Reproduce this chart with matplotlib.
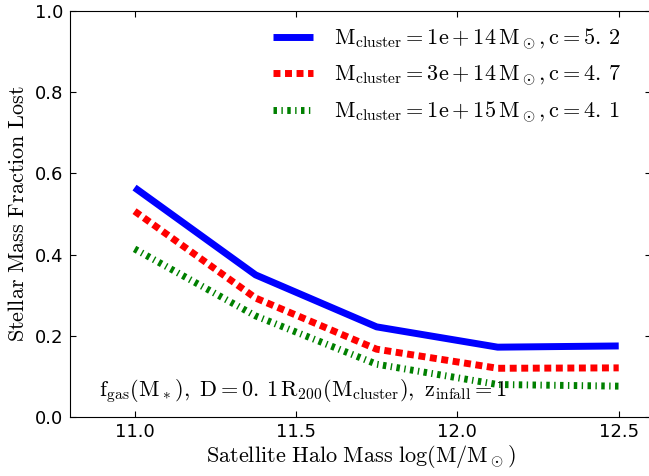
import matplotlib
matplotlib.use("Agg")
import matplotlib.pyplot as plt

plt.rcParams['mathtext.fontset'] = 'cm'
plt.rcParams['font.family'] = ['DejaVu Sans']
plt.rcParams['lines.scale_dashes'] = False

halo_mass = [11.0, 11.375, 11.75, 12.125, 12.5]
frac_1e14 = [0.565, 0.350, 0.222, 0.172, 0.175]
frac_3e14 = [0.507, 0.293, 0.167, 0.120, 0.121]
frac_1e15 = [0.414, 0.249, 0.130, 0.080, 0.076]

labels = [
    r'$\mathrm{M_{cluster}=1e+14\,M_\odot, c=5.\,2}$',
    r'$\mathrm{M_{cluster}=3e+14\,M_\odot, c=4.\,7}$',
    r'$\mathrm{M_{cluster}=1e+15\,M_\odot, c=4.\,1}$',
]
xticks = [11.0, 11.5, 12.0, 12.5]
yticks = [0.0, 0.2, 0.4, 0.6, 0.8, 1.0]

fig = plt.figure(figsize=(6.49, 4.76), dpi=100)
ax = fig.add_axes([70/649, 59/476, 581/649, 406/476])

ax.plot(halo_mass, frac_1e14, color='blue', lw=5, solid_capstyle='butt', label=labels[0])
ax.plot(halo_mass, frac_3e14, color='red', lw=5, dashes=[5, 3.3], label=labels[1])
ax.plot(halo_mass, frac_1e15, color='green', lw=5, dashes=[2.5, 3.2, 1, 3.2], label=labels[2])

ax.set_xlim(10.8, 12.6)
ax.set_ylim(0, 1.0)
ax.set_xticks(xticks)
ax.set_xticklabels([f'{t:.1f}' for t in xticks])
ax.set_yticks(yticks)
ax.set_yticklabels([f'{t:.1f}' for t in yticks])
ax.tick_params(direction='in', top=True, right=True, length=4, labelsize=13)
ax.tick_params(axis='x', pad=4)
ax.tick_params(axis='y', pad=5)

ax.set_xlabel(r'$\mathrm{Satellite\ Halo\ Mass\ log(M/M_\odot)}$', fontsize=16, labelpad=2)
ax.set_ylabel(r'$\mathrm{Stellar\ Mass\ Fraction\ Lost}$', fontsize=16, labelpad=5)

ax.legend(loc='upper right', frameon=False, fontsize=16, handlelength=1.8,
          handletextpad=0.95, labelspacing=0.5, borderaxespad=0.3,
          bbox_to_anchor=(0.975, 1.0))

ax.text(0.05, 0.05,
        r'$\mathrm{f_{gas}(M_*),\ D=0.\,1\,R_{200}(M_{cluster}),\ z_{infall}=1}$',
        transform=ax.transAxes, fontsize=16)

fig.savefig('out.png', dpi=100)
